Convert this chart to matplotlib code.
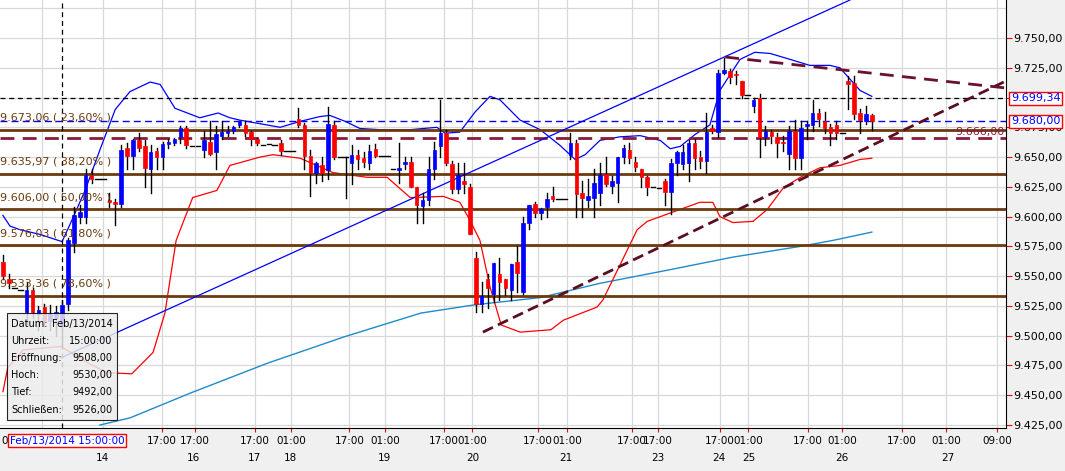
import matplotlib.pyplot as plt
import matplotlib.transforms as mtransforms
from matplotlib.patches import Rectangle
from matplotlib.ticker import FuncFormatter

# candles: open, high, low, close
opens = [9562, 9548, 9540, 9538, 9520, 9538, 9518, 9524, 9512, 9515, 9508, 9527, 9578, 9600, 9600, 9635, 9632, 9632,
         9614, 9612, 9611, 9658, 9651, 9664, 9659, 9640, 9655, 9650, 9661, 9662, 9667, 9674, 9659, 9659, 9656, 9663,
         9654, 9668, 9670, 9672, 9677, 9677, 9671, 9665, 9660, 9661, 9660, 9662, 9655, 9655, 9682, 9677, 9651, 9637,
         9643, 9639, 9677, 9650, 9650, 9645, 9652, 9649, 9645, 9657, 9651, 9651, 9640, 9639, 9644, 9646, 9625, 9609,
         9614, 9640, 9659, 9670, 9644, 9623, 9630, 9625, 9565, 9527, 9548, 9535, 9552, 9548, 9538, 9562, 9537, 9595,
         9611, 9603, 9608, 9617, 9615, 9615, 9652, 9662, 9620, 9614, 9616, 9620, 9636, 9626, 9628, 9650, 9656, 9646,
         9640, 9633, 9625, 9624, 9630, 9621, 9645, 9644, 9645, 9662, 9650, 9647, 9674, 9671, 9721, 9722, 9720, 9714,
         9702, 9693, 9700, 9667, 9671, 9667, 9663, 9653, 9672, 9649, 9676, 9677, 9687, 9680, 9675, 9677, 9670, 9714,
         9712, 9687, 9680, 9685]
highs = [9568, 9552, 9540, 9538, 9545, 9540, 9525, 9527, 9526, 9525, 9530, 9582, 9608, 9610, 9640, 9640, 9632, 9632,
         9620, 9615, 9660, 9662, 9665, 9670, 9664, 9660, 9658, 9663, 9665, 9666, 9676, 9676, 9659, 9659, 9672, 9680,
         9676, 9680, 9676, 9676, 9680, 9680, 9672, 9666, 9660, 9661, 9660, 9664, 9655, 9655, 9691, 9679, 9656, 9646,
         9650, 9692, 9680, 9650, 9650, 9660, 9656, 9654, 9660, 9661, 9651, 9651, 9640, 9662, 9650, 9650, 9625, 9620,
         9650, 9663, 9698, 9673, 9647, 9645, 9645, 9627, 9570, 9545, 9552, 9561, 9565, 9548, 9560, 9575, 9600, 9610,
         9612, 9607, 9620, 9625, 9615, 9615, 9670, 9664, 9630, 9632, 9640, 9645, 9650, 9634, 9650, 9660, 9662, 9650,
         9640, 9634, 9625, 9624, 9632, 9648, 9655, 9660, 9664, 9665, 9655, 9687, 9677, 9723, 9733, 9724, 9722, 9714,
         9702, 9700, 9703, 9676, 9673, 9670, 9668, 9676, 9681, 9680, 9680, 9698, 9690, 9688, 9678, 9680, 9670, 9718,
         9718, 9690, 9693, 9686]
lows = [9548, 9540, 9540, 9538, 9510, 9515, 9505, 9508, 9505, 9500, 9492, 9522, 9570, 9595, 9595, 9628, 9632, 9632,
        9608, 9593, 9608, 9640, 9640, 9655, 9625, 9620, 9640, 9640, 9658, 9660, 9662, 9658, 9659, 9659, 9650, 9652,
        9640, 9665, 9668, 9670, 9675, 9668, 9660, 9660, 9660, 9661, 9660, 9652, 9655, 9655, 9675, 9640, 9617, 9628,
        9630, 9632, 9648, 9650, 9616, 9627, 9640, 9642, 9640, 9650, 9651, 9651, 9640, 9628, 9640, 9625, 9595, 9595,
        9610, 9632, 9650, 9643, 9620, 9620, 9620, 9585, 9520, 9520, 9523, 9528, 9530, 9534, 9530, 9537, 9535, 9590,
        9600, 9598, 9600, 9613, 9615, 9615, 9648, 9600, 9600, 9608, 9600, 9610, 9626, 9620, 9612, 9645, 9645, 9638,
        9625, 9618, 9625, 9624, 9610, 9602, 9635, 9640, 9630, 9640, 9641, 9637, 9670, 9667, 9720, 9712, 9711, 9700,
        9702, 9688, 9650, 9660, 9662, 9650, 9655, 9640, 9640, 9640, 9665, 9672, 9676, 9670, 9660, 9665, 9670, 9690,
        9682, 9670, 9678, 9673]
closes = [9550, 9544, 9540, 9538, 9538, 9520, 9522, 9512, 9518, 9520, 9526, 9580, 9601, 9604, 9635, 9632, 9632, 9632,
          9612, 9611, 9656, 9651, 9664, 9658, 9641, 9654, 9650, 9661, 9663, 9665, 9674, 9660, 9659, 9659, 9664, 9653,
          9669, 9671, 9672, 9675, 9680, 9670, 9665, 9662, 9660, 9661, 9660, 9655, 9655, 9655, 9677, 9651, 9637, 9645,
          9637, 9678, 9650, 9650, 9650, 9652, 9648, 9646, 9655, 9651, 9651, 9651, 9640, 9641, 9646, 9625, 9610, 9614,
          9640, 9656, 9670, 9645, 9623, 9635, 9627, 9585, 9527, 9533, 9540, 9561, 9545, 9540, 9560, 9553, 9595, 9610,
          9603, 9606, 9615, 9615, 9615, 9615, 9662, 9619, 9616, 9617, 9628, 9635, 9627, 9630, 9650, 9658, 9649, 9642,
          9633, 9625, 9625, 9624, 9621, 9645, 9654, 9654, 9662, 9649, 9647, 9671, 9672, 9721, 9723, 9717, 9719, 9702,
          9702, 9698, 9667, 9672, 9668, 9662, 9662, 9672, 9649, 9674, 9678, 9687, 9682, 9674, 9670, 9670, 9670, 9711,
          9686, 9681, 9686, 9680]

# Bollinger bands and moving average (bar index, value)
upper_x = [0, 1.2, 2.9, 6.3, 10, 11.3, 13.9, 16.4, 19, 21.5, 24.9, 26.6, 29.1, 33.3, 36.4, 38.4, 40.1, 43.5, 46.9,
           50.3, 53.6, 55.3, 57.9, 60.4, 63.8, 68.9, 73.4, 74.8, 77.3, 79.9, 82.4, 84.1, 87.5, 90.9, 94.2, 96.8, 98.5,
           101, 104.4, 107.8, 111.2, 112.9, 114.6, 117.1, 119.6, 121.3, 124.7, 127.2, 129.8, 133.2, 136.5, 139.9,
           141.6, 145, 147]
upper_y = [9601, 9592, 9589, 9585, 9579, 9593, 9622, 9656, 9690, 9705, 9713, 9711, 9691, 9683, 9687, 9683, 9681,
           9678, 9675, 9680, 9684, 9685, 9680, 9674, 9673, 9673, 9675, 9670, 9671, 9688, 9701, 9698, 9681, 9673,
           9660, 9648, 9652, 9664, 9667, 9668, 9664, 9657, 9659, 9669, 9677, 9706, 9732, 9738, 9737, 9732, 9727,
           9727, 9725, 9706, 9701]
lower_x = [0, 0.8, 3.4, 9.8, 14.4, 17.6, 21.8, 25.4, 27.4, 29.3, 32.1, 36.2, 38.4, 43.5, 45.7, 50.3, 55.8, 61.6,
           65, 68.9, 74.5, 77.3, 79, 80.7, 82.4, 84.3, 87.5, 92.7, 94.8, 100.5, 101.5, 107.3, 109, 115.1, 117.9,
           120.1, 121.3, 123.5, 126.9, 129.3, 132, 134.9, 138.2, 141.6, 145, 147]
lower_y = [9453, 9473, 9488, 9491, 9477, 9469, 9468, 9486, 9519, 9580, 9616, 9622, 9643, 9650, 9652, 9649, 9637,
           9633, 9633, 9616, 9617, 9612, 9597, 9580, 9541, 9509, 9503, 9505, 9513, 9524, 9530, 9589, 9596, 9607,
           9612, 9612, 9600, 9595, 9596, 9606, 9624, 9633, 9641, 9643, 9648, 9649]
ma_x = [16.4, 21.5, 31.8, 44.8, 57.7, 70.7, 79.9, 90.9, 101, 112.4, 123.5, 134.9, 140.4, 147]
ma_y = [9425, 9431, 9452, 9477, 9499, 9519, 9526, 9532, 9544, 9555, 9566, 9575, 9580, 9587]

fib_levels = [9673.06, 9635.97, 9606.00, 9576.03, 9533.36]
fib_labels = ['9.673,06 ( 23,60% )', '9.635,97 ( 38,20% )', '9.606,00 ( 50,00% )',
              '9.576,03 ( 61,80% )', '9.533,36 ( 78,60% )']

time_pos = [26.9, 32.5, 42.6, 48.7, 58.6, 64.6, 74.6, 79.4, 90.5, 95.4, 106.4, 110.8, 121.3, 126.1, 136.2, 142,
            152.1, 159.6, 168.2]
time_labels = ['17:00', '17:00', '17:00', '01:00', '17:00', '01:00', '17:00', '01:00', '17:00', '01:00', '17:00',
               '17:00', '17:00', '01:00', '17:00', '01:00', '17:00', '01:00', '09:00']
day_pos = [16.8, 32.3, 42.5, 48.7, 64.5, 79.5, 95.3, 110.8, 121.2, 126.2, 142, 159.9]
day_labels = ['14', '16', '17', '18', '19', '20', '21', '23', '24', '25', '26', '27']

fig = plt.figure(figsize=(10.65, 4.71), dpi=100, facecolor='#F0F0F0')
ax = fig.add_axes([0.0, 0.0913, 0.9446, 0.9087])
ax.set_facecolor('white')
ax.set_xlim(-0.5, 169.7)
ax.set_ylim(9422.5, 9781.9)

for p in time_pos + [6.6, 16.9]:
    ax.axvline(p, color='#D8D8D8', lw=0.9, zorder=0)
for v in range(9425, 9776, 25):
    ax.axhline(v, color='#D8D8D8', lw=0.9, zorder=0)

ax.plot(ma_x, ma_y, color='#1E8CC8', lw=1, zorder=2)
ax.plot(lower_x, lower_y, color='red', lw=0.9, zorder=2)
ax.plot(upper_x, upper_y, color='blue', lw=0.9, zorder=2)

for lvl, lab in zip(fib_levels, fib_labels):
    ax.axhline(lvl, color='#6B3A0E', lw=2, zorder=3)
    ax.text(-0.5, lvl + 6, lab, color='#6B3A0E', fontsize=8, va='bottom', ha='left', zorder=5)

ax.axhline(9699.34, color='black', lw=0.9, ls=(0, (4, 3)), zorder=3)
ax.axhline(9680.0, color='blue', lw=1, ls=(0, (5, 3)), zorder=3)
ax.axhline(9666.0, color='#8B1A3A', lw=2, ls=(0, (5, 3)), zorder=3)
ax.axvline(10, color='black', lw=0.9, ls=(0, (4, 3)), zorder=3)

# trend lines
ax.plot([9.8, 143.3], [9481.4, 9781.9], color='blue', lw=0.9, zorder=3)
ax.plot([81.2, 169.7], [9503, 9713.9], color='#5A0F20', lw=2, ls=(0, (4, 2)), zorder=3)
ax.plot([122.2, 169.7], [9734, 9708], color='#6A1030', lw=2, ls=(0, (5, 3)), zorder=3)

for i, (o, h, l, c) in enumerate(zip(opens, highs, lows, closes)):
    ax.plot([i, i], [l, h], color='black', lw=1, zorder=4)
    if o == c:
        ax.plot([i - 0.4, i + 0.4], [o, o], color='black', lw=1, zorder=4)
        continue
    col = 'blue' if c > o else 'red'
    ax.add_patch(Rectangle((i - 0.3, min(o, c)), 0.6, abs(c - o), facecolor=col, edgecolor=col, lw=0.5, zorder=4))

ax.yaxis.tick_right()
ax.set_yticks(range(9425, 9751, 25))
ax.yaxis.set_major_formatter(FuncFormatter(lambda v, _: f'{v:,.2f}'.replace(',', 'X').replace('.', ',').replace('X', '.')))
ax.tick_params(axis='y', colors='red', labelcolor='black', labelsize=8, length=4, pad=1)
ax.set_xticks(time_pos)
ax.set_xticklabels([])
ax.tick_params(axis='x', colors='red', length=3)
for s in ['top', 'left']:
    ax.spines[s].set_visible(False)

trans = mtransforms.blended_transform_factory(ax.transData, ax.transAxes)
for p, lab in zip(time_pos, time_labels):
    ax.text(p, -0.018, lab, transform=trans, ha='center', va='top', fontsize=7.5)
for p, lab in zip(day_pos, day_labels):
    ax.text(p, -0.058, lab, transform=trans, ha='center', va='top', fontsize=7.5)
ax.text(-0.3, -0.018, '0', transform=trans, ha='left', va='top', fontsize=7.5)
ax.text(1.2, -0.018, 'Feb/13/2014 15:00:00', transform=trans, ha='left', va='top', fontsize=7.5, color='blue',
        bbox=dict(boxstyle='square,pad=0.15', fc='white', ec='red', lw=1))

for v, lab in [(9699.34, '9.699,34'), (9680.0, '9.680,00')]:
    ax.text(1.005, v, lab, transform=mtransforms.blended_transform_factory(ax.transAxes, ax.transData),
            ha='left', va='center', fontsize=8, color='blue',
            bbox=dict(boxstyle='square,pad=0.15', fc='white', ec='red', lw=1), zorder=6)
ax.text(169.5, 9667, '9.666,00', color='#8B1A3A', fontsize=8, ha='right', va='bottom', zorder=5)

# tooltip
ax.add_patch(Rectangle((0.007, 0.019), 0.109, 0.25, transform=ax.transAxes, facecolor='#EBEBEB', alpha=0.85,
                       edgecolor='black', lw=0.8, zorder=7))
rows = [('Datum:', 'Feb/13/2014'), ('Uhrzeit:', '15:00:00'), ('Eröffnung:', '9508,00'),
        ('Hoch:', '9530,00'), ('Tief:', '9492,00'), ('Schließen:', '9526,00')]
for k, (a, b) in enumerate(rows):
    yy = 0.243 - k * 0.04
    ax.text(0.011, yy, a, transform=ax.transAxes, fontsize=7, va='center', zorder=8)
    ax.text(0.112, yy, b, transform=ax.transAxes, fontsize=7, va='center', ha='right', zorder=8)

fig.savefig('out.png', dpi=100, facecolor=fig.get_facecolor())
